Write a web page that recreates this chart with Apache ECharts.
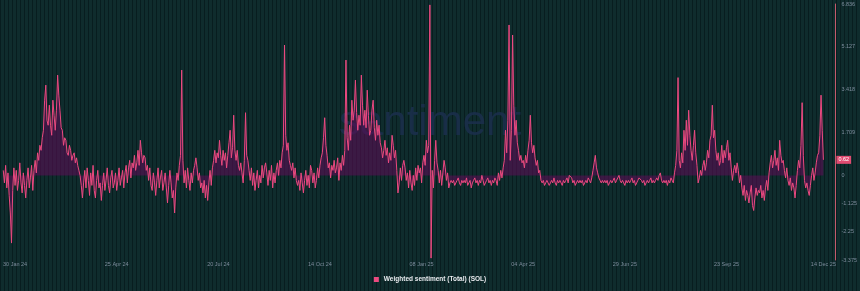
<!DOCTYPE html>
<html><head><meta charset="utf-8">
<script src="https://cdn.jsdelivr.net/npm/echarts@6/dist/echarts.min.js"></script>
<style>
html,body{margin:0;padding:0;}
body{width:860px;height:291px;overflow:hidden;background:repeating-linear-gradient(90deg,#081d1f 0px,#081d1f 1px,#0f2c2d 1px,#0f2c2d 4px);}
#c{width:860px;height:291px;}
</style></head><body><div id="c"></div>
<script>
const startDate = [2024, 0, 20];
const seriesName = 'Weighted sentiment (Total) (SOL)';
const sentiment = [
0.2,-0.3,0.4,-0.5,0.1,-0.8,-1.5,-2.7,-0.6,0.3,
-0.4,0.2,-0.6,-0.2,0.5,-0.3,-0.7,0.1,-0.4,-0.9,
-0.2,0.3,-0.5,-0.1,0.4,-0.6,0.2,0.6,0.1,0.9,
0.6,1.2,1.0,1.5,1.8,3.0,3.6,2.2,2.0,2.8,
2.0,1.6,3.0,2.4,1.8,2.6,4.0,3.2,2.6,1.9,
1.8,1.2,1.5,1.4,0.9,0.8,1.2,1.0,0.6,0.8,
0.9,0.5,0.7,0.4,0.2,0.0,-0.4,-0.9,-0.3,0.2,
-0.5,0.3,-0.2,-0.8,0.1,-0.4,0.4,-0.6,-0.9,-0.2,
0.2,-0.5,-0.3,-1.0,-0.4,0.1,-0.6,-0.2,0.3,-0.4,
-0.7,-0.1,0.2,-0.5,-0.3,0.1,-0.6,-0.2,0.3,-0.4,
-0.1,0.2,-0.5,0.1,0.4,-0.3,0.3,0.6,-0.1,0.5,
0.3,0.8,0.2,0.5,1.0,0.4,1.4,0.9,0.5,0.8,
0.7,0.2,0.4,-0.2,0.3,-0.4,-0.6,0.1,-0.3,-0.8,
-0.2,0.3,-0.5,-0.1,0.2,-0.6,-0.3,0.1,-0.5,-1.1,
-0.4,0.2,-0.3,-0.9,-0.6,-1.5,-0.5,0.1,-0.2,0.4,
0.8,4.2,0.6,-0.3,0.2,-0.5,0.3,-0.2,-0.6,0.1,
-0.3,0.2,0.4,0.7,0.3,-0.2,0.1,-0.5,-0.3,-0.7,
-0.2,-0.9,-0.4,-1.0,-0.3,0.2,-0.4,0.3,0.6,1.0,
0.5,0.9,0.7,1.4,0.8,0.4,1.0,0.6,0.9,0.3,
0.8,1.3,1.8,0.7,1.1,2.4,1.0,0.6,1.0,0.4,
0.2,0.5,0.1,-0.3,0.6,2.5,0.8,0.6,0.2,-0.2,
0.3,-0.4,0.1,-0.6,-0.2,0.2,-0.5,0.0,-0.3,0.4,
-0.1,0.3,0.5,0.1,-0.4,0.2,-0.2,0.4,-0.5,0.1,
-0.3,0.2,0.5,0.0,0.6,0.3,0.9,1.2,5.2,1.6,
1.0,1.3,0.6,0.4,0.2,0.5,-0.1,0.3,-0.2,-0.4,
-0.2,-0.6,0.1,-0.3,-0.7,-0.2,0.2,-0.4,0.0,-0.5,
0.4,0.2,-0.3,0.1,-0.5,-0.2,0.3,-0.1,0.4,0.7,
0.9,1.5,2.3,1.2,0.8,0.3,0.5,-0.1,0.4,0.2,
0.6,0.1,0.3,0.7,-0.2,0.5,0.2,0.8,0.4,1.0,
4.6,1.5,1.0,2.0,1.4,3.0,2.2,2.6,3.8,2.5,
1.8,2.4,2.0,4.0,2.8,2.0,2.6,1.9,3.4,2.4,
1.6,1.8,2.6,3.0,1.9,1.4,2.2,1.6,2.0,1.3,
1.1,0.7,1.0,1.4,0.8,1.1,0.5,0.9,0.6,1.6,
1.2,0.7,1.0,0.2,-0.7,-0.3,0.3,-0.2,0.4,0.6,
0.3,-0.2,0.1,-0.5,0.2,-0.3,-0.6,0.0,-0.4,0.3,
-0.2,0.4,0.1,0.3,-0.3,0.5,0.8,0.4,1.4,0.9,
1.2,6.8,-3.3,0.2,-0.5,0.6,1.4,0.5,0.2,-0.3,
0.2,-0.4,0.1,0.6,0.3,-0.2,0.1,-0.5,-0.3,-0.2,
-0.3,-0.2,-0.4,-0.3,-0.2,-0.1,-0.3,-0.4,-0.2,-0.3,
-0.2,-0.3,-0.1,-0.4,-0.3,-0.2,-0.5,-0.3,-0.2,-0.1,
-0.3,-0.2,-0.4,-0.2,-0.3,0.0,-0.2,-0.4,-0.3,-0.2,
-0.1,-0.3,-0.2,-0.4,-0.2,-0.3,-0.1,-0.2,-0.4,0.1,
-0.2,0.2,-0.1,0.3,0.6,1.8,0.9,2.2,6.0,0.6,
1.8,5.6,2.8,1.6,2.2,1.3,1.0,0.6,0.8,0.5,
0.6,0.3,0.8,0.5,1.0,1.4,2.4,1.3,0.9,1.2,
0.7,0.4,0.6,0.1,0.2,-0.2,-0.3,-0.2,-0.4,-0.3,
-0.2,-0.3,-0.4,-0.3,-0.2,-0.3,-0.1,-0.3,-0.4,-0.2,
-0.3,-0.2,-0.3,-0.4,-0.2,-0.3,-0.2,-0.1,-0.3,0.0,
0.0,-0.1,-0.3,-0.2,-0.4,-0.3,-0.2,-0.3,-0.2,-0.3,
-0.2,-0.4,-0.3,-0.2,-0.3,-0.1,-0.2,-0.3,-0.1,0.2,
0.5,0.8,0.3,0.1,-0.1,-0.2,-0.3,-0.2,-0.3,-0.2,
-0.3,-0.2,-0.4,-0.3,-0.2,-0.3,-0.2,-0.1,-0.3,-0.2,
-0.1,0.0,-0.2,-0.3,-0.2,-0.3,-0.4,-0.2,-0.3,-0.2,
-0.3,-0.2,-0.1,-0.3,-0.2,-0.4,-0.3,-0.2,-0.1,-0.1,
-0.2,-0.3,-0.2,-0.4,-0.3,-0.2,-0.3,-0.2,-0.1,-0.3,
-0.2,-0.3,-0.2,-0.1,-0.2,0.0,0.1,-0.2,-0.3,-0.2,
-0.3,-0.2,-0.4,-0.2,-0.3,-0.1,-0.2,-0.3,0.1,0.4,
1.0,3.9,0.6,0.3,0.9,0.5,1.8,1.0,2.2,1.2,
2.6,1.6,1.0,0.6,1.2,1.8,0.9,0.4,-0.3,-0.1,
0.2,0.0,0.4,0.6,0.2,0.5,1.0,0.7,1.4,1.6,
2.8,1.5,1.8,1.0,0.6,0.9,0.4,0.6,1.2,0.5,
1.0,0.7,1.1,1.4,0.6,0.9,0.3,-0.2,0.2,0.4,
0.1,0.5,0.2,-0.3,0.0,-0.5,-0.8,-0.4,-1.0,-0.6,
-0.8,-1.1,-0.7,-0.4,-1.2,-1.4,-0.9,-0.5,-0.8,-0.6,
-0.7,-0.4,-0.9,-0.6,-1.0,-0.5,-0.2,-0.6,0.1,0.5,
0.8,0.3,0.6,1.0,0.4,0.7,0.2,1.4,0.8,0.5,
0.6,0.2,-0.1,0.3,-0.2,-0.4,-0.1,-0.6,-0.3,-0.5,
-0.9,-0.4,0.2,0.6,0.3,1.2,2.9,0.8,-0.2,-0.5,
-0.3,-0.6,-0.8,-0.4,0.0,0.3,-0.2,0.1,0.5,0.8,
0.9,1.6,3.2,1.8,0.62
];
const xTickLabels = ['30 Jan 24','25 Apr 24','20 Jul 24','14 Oct 24','08 Jan 25','04 Apr 25','29 Jun 25','23 Sep 25','14 Dec 25'];
const yTickValues = [-3.375,-2.25,-1.125,0,1.709,3.418,5.127,6.836];
const yTickLabels = ['-3.375','-2.25','-1.125','0','1.709','3.418','5.127','6.836'];

const MON = ['Jan','Feb','Mar','Apr','May','Jun','Jul','Aug','Sep','Oct','Nov','Dec'];
const categories = sentiment.map((_, i) => {
  const d = new Date(Date.UTC(startDate[0], startDate[1], startDate[2] + i));
  const dd = String(d.getUTCDate()).padStart(2, '0');
  return dd + ' ' + MON[d.getUTCMonth()] + ' ' + String(d.getUTCFullYear()).slice(2);
});
const lastValue = sentiment[sentiment.length - 1];

const chart = echarts.init(document.getElementById('c'), null, {renderer: 'canvas'});
chart.setOption({
  animation: false,
  backgroundColor: 'transparent',
  textStyle: {fontFamily: 'Liberation Sans, Arial, sans-serif'},
  grid: {left: 0, right: 36, top: 4, bottom: 31, containLabel: false},
  graphic: [{
    type: 'text', left: 'center', top: 102, silent: true, z: 0,
    style: {text: 'santiment', fill: '#1b2f4e', font: '42px "Liberation Sans", Arial, sans-serif', opacity: 0.85}
  }],
  legend: {
    bottom: 3, left: 'center', itemWidth: 5, itemHeight: 5, icon: 'rect', itemGap: 4,
    textStyle: {color: '#e8eaee', fontSize: 6.5, fontWeight: 'bold'},
    data: [seriesName]
  },
  xAxis: {
    type: 'category', data: categories, boundaryGap: false,
    axisLine: {show: false}, axisTick: {show: false}, splitLine: {show: false},
    axisLabel: {
      color: '#7d8c9c', fontSize: 5.5, margin: 1,
      interval: (i, v) => xTickLabels.includes(v), showMaxLabel: true, hideOverlap: false
    }
  },
  yAxis: {
    type: 'value', position: 'right', offset: 12,
    min: yTickValues[0], max: yTickValues[yTickValues.length - 1],
    axisLine: {show: true, lineStyle: {color: '#c45a6c', width: 1}},
    axisTick: {show: false}, splitLine: {show: false},
    axisLabel: {
      color: '#7d8c9c', fontSize: 5.5, margin: 6,
      customValues: yTickValues,
      formatter: v => { const k = yTickValues.findIndex(t => Math.abs(t - v) < 1e-6); return k >= 0 ? yTickLabels[k] : ''; }
    }
  },
  series: [{
    name: seriesName, type: 'line', data: sentiment, symbol: 'none', showSymbol: false,
    itemStyle: {color: '#ec4a80'},
    lineStyle: {color: '#ec4a80', width: 1},
    areaStyle: {color: 'rgba(95,12,88,0.8)', origin: 0},
    markLine: {
      silent: true, symbol: ['none', 'none'],
      lineStyle: {color: 'rgba(0,0,0,0)', width: 0, type: 'solid'},
      label: {
        show: true, position: 'end', distance: 13, formatter: () => lastValue.toFixed(2),
        backgroundColor: '#e04b71', color: '#ffffff', fontSize: 5.5, padding: [1, 2]
      },
      data: [{yAxis: lastValue}]
    }
  }]
});
</script></body></html>
